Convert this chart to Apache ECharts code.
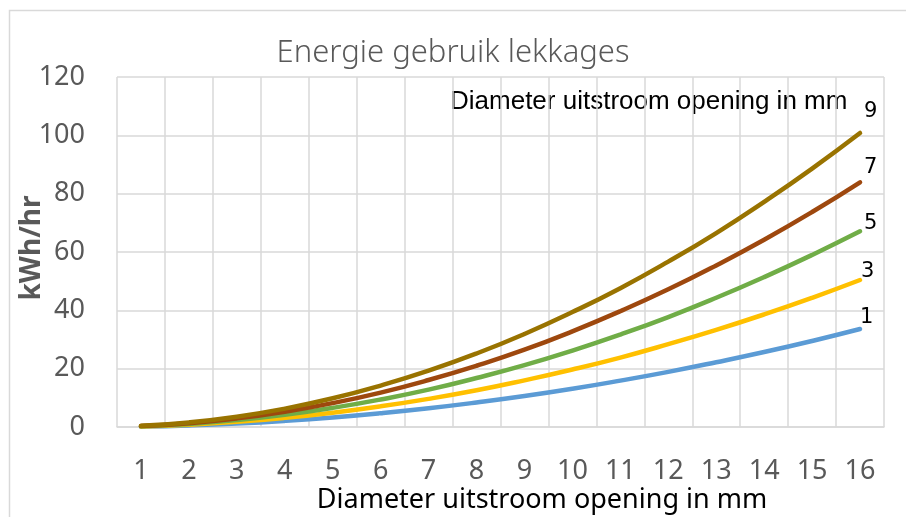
<!DOCTYPE html>
<html>
<head>
<meta charset="utf-8">
<script src="https://cdn.jsdelivr.net/npm/echarts@6/dist/echarts.min.js"></script>
<style>html,body{margin:0;padding:0;background:#fff}#c{width:906px;height:517px}</style>
</head>
<body>
<div id="c"></div>
<script>
const categories = ['1','2','3','4','5','6','7','8','9','10','11','12','13','14','15','16'];
const seriesNames = ['1','3','5','7','9'];
const s1 = [0.13, 0.53, 1.18, 2.10, 3.28, 4.73, 6.43, 8.40, 10.6, 13.1, 15.9, 18.9, 22.2, 25.7, 29.5, 33.6];
const s3 = [0.20, 0.79, 1.77, 3.15, 4.92, 7.09, 9.65, 12.6, 16.0, 19.7, 23.8, 28.4, 33.3, 38.6, 44.3, 50.4];
const s5 = [0.26, 1.05, 2.36, 4.19, 6.55, 9.43, 12.8, 16.8, 21.2, 26.2, 31.7, 37.7, 44.3, 51.4, 59.0, 67.1];
const s7 = [0.33, 1.31, 2.95, 5.24, 8.19, 11.8, 16.1, 21.0, 26.5, 32.8, 39.7, 47.2, 55.4, 64.2, 73.7, 83.9];
const s9 = [0.39, 1.58, 3.54, 6.30, 9.84, 14.2, 19.3, 25.2, 31.9, 39.4, 47.6, 56.7, 66.5, 77.2, 88.6, 100.8];
const yTicks = [0, 20, 40, 60, 80, 100, 120];
const titleText = 'Energie gebruik lekkages';
const xName = 'Diameter uitstroom opening in mm';
const yName = 'kWh/hr';
const noteText = 'Diameter uitstroom opening in mm';

const seriesData = [s1, s3, s5, s7, s9];
const colors = ['#5B9BD5', '#FFC000', '#70AD47', '#9E480E', '#997300'];
const labelOffsets = [[-8, -11], [-7, -8], [-4, -8], [-4, -15], [-4, -21]];

const chart = echarts.init(document.getElementById('c'), null, {renderer: 'canvas'});
chart.setOption({
  animation: false,
  backgroundColor: '#fff',
  grid: {left: 117, right: 22, top: 77, bottom: 90, outerBoundsMode: 'none', containLabel: false},
  xAxis: {
    type: 'category', data: categories, boundaryGap: true,
    axisTick: {show: false},
    axisLine: {lineStyle: {color: '#d9d9d9', width: 1.5}},
    splitLine: {show: true, lineStyle: {color: '#d9d9d9', width: 1.5}},
    axisLabel: {margin: 31, fontFamily: 'Noto Sans', fontSize: 27, color: '#595959'}
  },
  yAxis: {
    type: 'value', min: yTicks[0], max: yTicks[yTicks.length - 1], interval: yTicks[1] - yTicks[0],
    axisLine: {show: false}, axisTick: {show: false},
    splitLine: {lineStyle: {color: '#d9d9d9', width: 1.5}},
    axisLabel: {margin: 32, fontFamily: 'Noto Sans', fontSize: 27, color: '#595959'}
  },
  graphic: [
    {type: 'rect', shape: {x: 9.5, y: 10.5, width: 950, height: 560}, style: {fill: 'none', stroke: '#d9d9d9', lineWidth: 1.5}, silent: true, z: -1},
    {type: 'text', x: 453, y: 53, style: {text: titleText, fontFamily: 'Noto Sans', fontSize: 31, fontWeight: 300, fill: '#595959', align: 'center', verticalAlign: 'middle'}},
    {type: 'text', x: 32, y: 248, rotation: Math.PI / 2, style: {text: yName, fontFamily: 'Noto Sans', fontSize: 28, fontWeight: 'bold', fill: '#595959', align: 'center', verticalAlign: 'middle'}},
    {type: 'text', x: 450, y: 102, style: {text: noteText, fontFamily: 'Liberation Sans', fontSize: 26, fill: '#000', verticalAlign: 'middle'}},
    {type: 'text', x: 542, y: 500, style: {text: xName, fontFamily: 'Noto Sans', fontSize: 27, fill: '#000', align: 'center', verticalAlign: 'middle'}}
  ],
  series: seriesData.map((d, i) => ({
    name: seriesNames[i], type: 'line', data: d, smooth: true,
    showSymbol: false, symbol: 'none',
    lineStyle: {color: colors[i], width: 4.5, cap: 'round'},
    itemStyle: {color: colors[i]},
    endLabel: {show: true, formatter: seriesNames[i], fontFamily: 'DejaVu Sans', fontSize: 21, color: '#000', offset: labelOffsets[i]},
    z: 2 + i
  }))
});
</script>
</body>
</html>
